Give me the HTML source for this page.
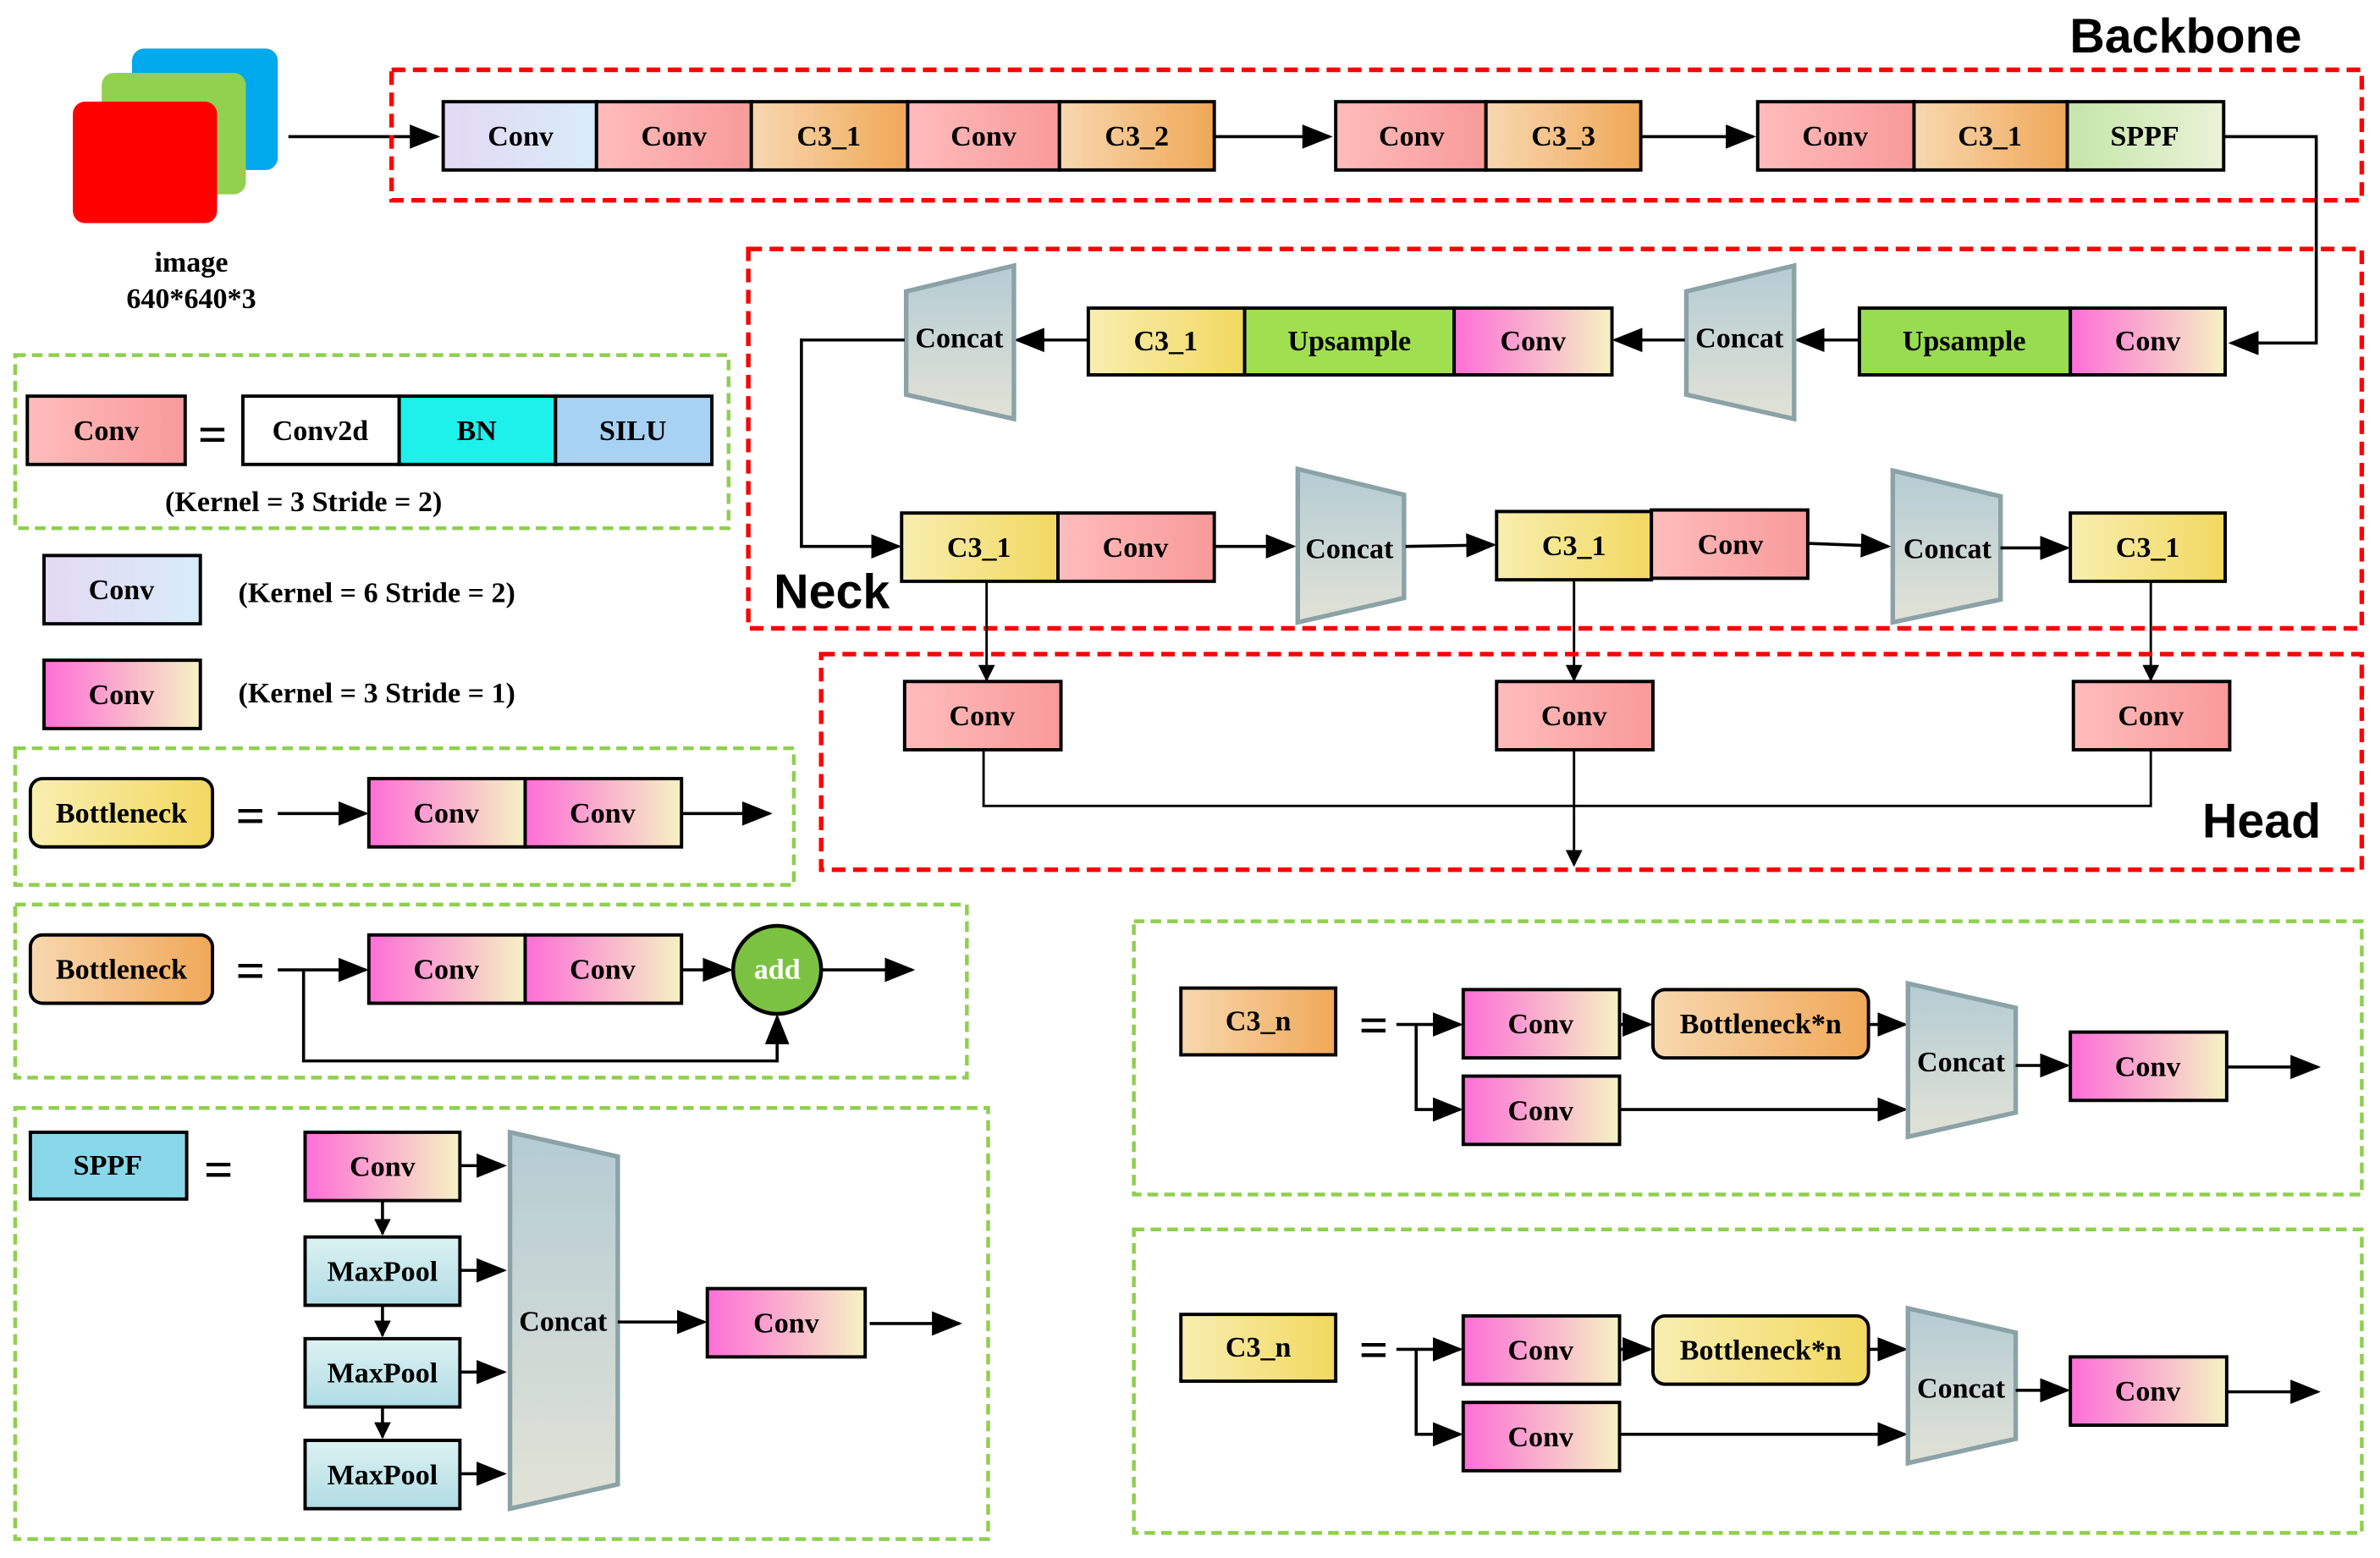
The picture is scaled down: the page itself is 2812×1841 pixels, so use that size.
<!DOCTYPE html>
<html><head><meta charset="utf-8"><style>
html,body{margin:0;padding:0;background:#fff;}
svg{display:block;}
text{font-family:"Liberation Serif",serif;font-weight:bold;font-size:19px;text-anchor:middle;dominant-baseline:central;fill:#000;}
.big{font-family:"Liberation Sans",sans-serif;font-size:32px;}
.b{stroke:#000;stroke-width:2.2;}
.cat{stroke:#8ba2a6;stroke-width:3;fill:url(#gCat);}
.ln{stroke:#000;stroke-width:2;fill:none;}
.dr{fill:none;stroke:#f00;stroke-width:3;stroke-dasharray:9,5;}
.dg{fill:none;stroke:#8fcf4f;stroke-width:2.5;stroke-dasharray:7,4;}
</style></head><body>
<svg width="2812" height="1841" viewBox="0 0 1568 1026.5" preserveAspectRatio="none" xmlns="http://www.w3.org/2000/svg">
<defs>
<linearGradient id="gConv"><stop offset="0" stop-color="#ffbcbc"/><stop offset="1" stop-color="#f89a9a"/></linearGradient>
<linearGradient id="gC3o"><stop offset="0" stop-color="#f8d8b0"/><stop offset="1" stop-color="#f0a858"/></linearGradient>
<linearGradient id="gC3y"><stop offset="0" stop-color="#f8eeb0"/><stop offset="1" stop-color="#f2d860"/></linearGradient>
<linearGradient id="gLav"><stop offset="0" stop-color="#e4d8f4"/><stop offset="1" stop-color="#d8ecf8"/></linearGradient>
<linearGradient id="gSPPF"><stop offset="0" stop-color="#c4e6a8"/><stop offset="1" stop-color="#eaf2d8"/></linearGradient>
<linearGradient id="gMag"><stop offset="0" stop-color="#ff6ed8"/><stop offset="1" stop-color="#f6f2c4"/></linearGradient>
<linearGradient id="gMax" x1="0" y1="0" x2="0" y2="1"><stop offset="0" stop-color="#dcf2f2"/><stop offset="1" stop-color="#b0dce4"/></linearGradient>
<linearGradient id="gCat" x1="0" y1="0" x2="0" y2="1"><stop offset="0" stop-color="#b4ccd4"/><stop offset="1" stop-color="#e2e2d6"/></linearGradient>
<marker id="ar" viewBox="0 0 10 10" refX="9" refY="5" markerWidth="11" markerHeight="11" markerUnits="userSpaceOnUse" orient="auto"><path d="M0,0L10,5L0,10z" fill="#000"/></marker>
<marker id="arb" viewBox="0 0 10 10" refX="9" refY="5" markerWidth="20" markerHeight="20" markerUnits="userSpaceOnUse" orient="auto"><path d="M0,1L10,5L0,9z" fill="#000"/></marker>
</defs>

<!-- image -->
<rect x="87" y="32" width="96" height="80" rx="8" fill="#00a8ec"/>
<rect x="67" y="48" width="95" height="80" rx="8" fill="#92d050"/>
<rect x="48" y="67" width="95" height="80" rx="8" fill="#ff0000"/>
<text x="126" y="173">image</text>
<text x="126" y="197">640*640*3</text>
<line class="ln" x1="190" y1="90" x2="288" y2="90" marker-end="url(#arb)"/>

<!-- Backbone -->
<rect class="dr" x="258" y="46" width="1298" height="86"/>
<text class="big" x="1440" y="24">Backbone</text>
<rect class="b" x="292" y="67" width="101" height="45" fill="url(#gLav)"/><text x="343" y="90">Conv</text>
<rect class="b" x="393" y="67" width="102" height="45" fill="url(#gConv)"/><text x="444" y="90">Conv</text>
<rect class="b" x="495" y="67" width="103" height="45" fill="url(#gC3o)"/><text x="546" y="90">C3_1</text>
<rect class="b" x="598" y="67" width="100" height="45" fill="url(#gConv)"/><text x="648" y="90">Conv</text>
<rect class="b" x="698" y="67" width="102" height="45" fill="url(#gC3o)"/><text x="749" y="90">C3_2</text>
<line class="ln" x1="800" y1="90" x2="876" y2="90" marker-end="url(#arb)"/>
<rect class="b" x="880" y="67" width="99" height="45" fill="url(#gConv)"/><text x="930" y="90">Conv</text>
<rect class="b" x="979" y="67" width="102" height="45" fill="url(#gC3o)"/><text x="1030" y="90">C3_3</text>
<line class="ln" x1="1081" y1="90" x2="1155" y2="90" marker-end="url(#arb)"/>
<rect class="b" x="1158" y="67" width="103" height="45" fill="url(#gConv)"/><text x="1209" y="90">Conv</text>
<rect class="b" x="1261" y="67" width="101" height="45" fill="url(#gC3o)"/><text x="1311" y="90">C3_1</text>
<rect class="b" x="1362" y="67" width="103" height="45" fill="url(#gSPPF)"/><text x="1413" y="90">SPPF</text>
<polyline class="ln" points="1465,90 1526,90 1526,226 1470,226" marker-end="url(#arb)"/>

<!-- Neck -->
<rect class="dr" x="493" y="164" width="1063" height="250"/>
<text class="big" x="548" y="390">Neck</text>
<rect class="b" x="1225" y="203" width="139" height="44" fill="#98dc50"/><text x="1294" y="225">Upsample</text>
<rect class="b" x="1364" y="203" width="102" height="44" fill="url(#gMag)"/><text x="1415" y="225">Conv</text>
<line class="ln" x1="1225" y1="224" x2="1184" y2="224" marker-end="url(#arb)"/>
<polygon class="cat" points="1111,192 1182,175 1182,276 1111,260"/><text x="1146" y="223">Concat</text>
<line class="ln" x1="1110" y1="224" x2="1064" y2="224" marker-end="url(#arb)"/>
<rect class="b" x="717" y="203" width="103" height="44" fill="url(#gC3y)"/><text x="768" y="225">C3_1</text>
<rect class="b" x="820" y="203" width="138" height="44" fill="#a0e050"/><text x="889" y="225">Upsample</text>
<rect class="b" x="958" y="203" width="104" height="44" fill="url(#gMag)"/><text x="1010" y="225">Conv</text>
<line class="ln" x1="717" y1="224" x2="670" y2="224" marker-end="url(#arb)"/>
<polygon class="cat" points="597,192 668,175 668,276 597,260"/><text x="632" y="223">Concat</text>
<polyline class="ln" points="596,224 528,224 528,360 592,360" marker-end="url(#arb)"/>

<rect class="b" x="594" y="338" width="103" height="45" fill="url(#gC3y)"/><text x="645" y="361">C3_1</text>
<rect class="b" x="697" y="338" width="103" height="45" fill="url(#gConv)"/><text x="748" y="361">Conv</text>
<line class="ln" x1="800" y1="360" x2="852" y2="360" marker-end="url(#arb)"/>
<polygon class="cat" points="855,309 925,326 925,394 855,410"/><text x="889" y="362">Concat</text>
<line class="ln" x1="926" y1="360" x2="984" y2="359" marker-end="url(#arb)"/>
<rect class="b" x="986" y="337" width="102" height="45" fill="url(#gC3y)"/><text x="1037" y="360">C3_1</text>
<rect class="b" x="1088" y="336" width="103" height="45" fill="url(#gConv)"/><text x="1140" y="359">Conv</text>
<line class="ln" x1="1191" y1="358" x2="1244" y2="360" marker-end="url(#arb)"/>
<polygon class="cat" points="1247,310 1318,327 1318,395 1247,410"/><text x="1283" y="362">Concat</text>
<line class="ln" x1="1318" y1="361" x2="1362" y2="361" marker-end="url(#arb)"/>
<rect class="b" x="1364" y="338" width="102" height="45" fill="url(#gC3y)"/><text x="1415" y="361">C3_1</text>

<line x1="650" y1="383" x2="650" y2="448" stroke="#000" stroke-width="1.6" marker-end="url(#ar)"/>
<line x1="1037" y1="382" x2="1037" y2="448" stroke="#000" stroke-width="1.6" marker-end="url(#ar)"/>
<line x1="1417" y1="383" x2="1417" y2="448" stroke="#000" stroke-width="1.6" marker-end="url(#ar)"/>

<!-- Head -->
<rect class="dr" x="541" y="431" width="1015" height="142"/>
<text class="big" x="1490" y="541">Head</text>
<rect class="b" x="596" y="449" width="103" height="45" fill="url(#gConv)"/><text x="647" y="472">Conv</text>
<rect class="b" x="986" y="449" width="103" height="45" fill="url(#gConv)"/><text x="1037" y="472">Conv</text>
<rect class="b" x="1366" y="449" width="103" height="45" fill="url(#gConv)"/><text x="1417" y="472">Conv</text>
<polyline points="648,494 648,531 1417,531 1417,494" fill="none" stroke="#000" stroke-width="1.6"/>
<line x1="1037" y1="494" x2="1037" y2="570" stroke="#000" stroke-width="1.6" marker-end="url(#ar)"/>

<!-- Legend 1 -->
<rect class="dg" x="10" y="234" width="470" height="114"/>
<rect class="b" x="18" y="261" width="104" height="45" fill="url(#gConv)"/><text x="70" y="284">Conv</text>
<text x="140" y="287" style="font-size:34px">=</text>
<rect class="b" x="160" y="261" width="103" height="45" fill="#fff"/><text x="211" y="284">Conv2d</text>
<rect class="b" x="263" y="261" width="103" height="45" fill="#1ef0ec"/><text x="314" y="284">BN</text>
<rect class="b" x="366" y="261" width="103" height="45" fill="#a8d2f4"/><text x="417" y="284">SILU</text>
<text x="200" y="331">(Kernel = 3  Stride = 2)</text>
<rect class="b" x="29" y="366" width="103" height="45" fill="url(#gLav)"/><text x="80" y="389">Conv</text>
<text x="157" y="391" style="text-anchor:start">(Kernel = 6  Stride = 2)</text>
<rect class="b" x="29" y="435" width="103" height="45" fill="url(#gMag)"/><text x="80" y="458">Conv</text>
<text x="157" y="457" style="text-anchor:start">(Kernel = 3  Stride = 1)</text>

<!-- Bottleneck 1 -->
<rect class="dg" x="10" y="493" width="513" height="90"/>
<rect class="b" x="20" y="513" width="120" height="45" rx="8" fill="url(#gC3y)"/><text x="80" y="536">Bottleneck</text>
<text x="165" y="538" style="font-size:34px">=</text>
<line class="ln" x1="183" y1="536" x2="241" y2="536" marker-end="url(#arb)"/>
<rect class="b" x="243" y="513" width="103" height="45" fill="url(#gMag)"/><text x="294" y="536">Conv</text>
<rect class="b" x="346" y="513" width="103" height="45" fill="url(#gMag)"/><text x="397" y="536">Conv</text>
<line class="ln" x1="449" y1="536" x2="507" y2="536" marker-end="url(#arb)"/>

<!-- Bottleneck 2 -->
<rect class="dg" x="10" y="596" width="627" height="114"/>
<rect class="b" x="20" y="616" width="120" height="45" rx="8" fill="url(#gC3o)"/><text x="80" y="639">Bottleneck</text>
<text x="165" y="640" style="font-size:34px">=</text>
<line class="ln" x1="183" y1="639" x2="241" y2="639" marker-end="url(#arb)"/>
<rect class="b" x="243" y="616" width="103" height="45" fill="url(#gMag)"/><text x="294" y="639">Conv</text>
<rect class="b" x="346" y="616" width="103" height="45" fill="url(#gMag)"/><text x="397" y="639">Conv</text>
<line class="ln" x1="449" y1="639" x2="481" y2="639" marker-end="url(#arb)"/>
<circle cx="512" cy="639" r="29" fill="#7cc242" stroke="#000" stroke-width="2.5"/>
<text x="512" y="639" style="fill:#fff">add</text>
<polyline class="ln" points="200,639 200,699 512,699 512,670" marker-end="url(#arb)"/>
<line class="ln" x1="541" y1="639" x2="601" y2="639" marker-end="url(#arb)"/>

<!-- SPPF -->
<rect class="dg" x="10" y="730" width="641" height="284"/>
<rect class="b" x="20" y="746" width="103" height="44" fill="#88d8ea"/><text x="71" y="768">SPPF</text>
<text x="144" y="771" style="font-size:34px">=</text>
<rect class="b" x="201" y="746" width="102" height="45" fill="url(#gMag)"/><text x="252" y="769">Conv</text>
<rect class="b" x="201" y="815" width="102" height="45" fill="url(#gMax)"/><text x="252" y="838">MaxPool</text>
<rect class="b" x="201" y="882" width="102" height="45" fill="url(#gMax)"/><text x="252" y="905">MaxPool</text>
<rect class="b" x="201" y="949" width="102" height="45" fill="url(#gMax)"/><text x="252" y="972">MaxPool</text>
<line class="ln" x1="252" y1="791" x2="252" y2="813" marker-end="url(#ar)"/>
<line class="ln" x1="252" y1="860" x2="252" y2="880" marker-end="url(#ar)"/>
<line class="ln" x1="252" y1="927" x2="252" y2="947" marker-end="url(#ar)"/>
<line class="ln" x1="303" y1="768" x2="332" y2="768" marker-end="url(#arb)"/>
<line class="ln" x1="303" y1="837" x2="332" y2="837" marker-end="url(#arb)"/>
<line class="ln" x1="303" y1="904" x2="332" y2="904" marker-end="url(#arb)"/>
<line class="ln" x1="303" y1="971" x2="332" y2="971" marker-end="url(#arb)"/>
<polygon class="cat" points="336,746 407,762 407,978 336,994"/><text x="371" y="871">Concat</text>
<line class="ln" x1="407" y1="871" x2="464" y2="871" marker-end="url(#arb)"/>
<rect class="b" x="466" y="849" width="104" height="45" fill="url(#gMag)"/><text x="518" y="872">Conv</text>
<line class="ln" x1="573" y1="872" x2="632" y2="872" marker-end="url(#arb)"/>

<!-- C3_n orange -->
<rect class="dg" x="747" y="607" width="809" height="180"/>
<rect class="b" x="778" y="651" width="102" height="44" fill="url(#gC3o)"/><text x="829" y="673">C3_n</text>
<text x="905" y="676" style="font-size:34px">=</text>
<line class="ln" x1="920" y1="675" x2="962" y2="675" marker-end="url(#arb)"/>
<polyline class="ln" points="933,675 933,731 962,731" marker-end="url(#arb)"/>
<rect class="b" x="964" y="652" width="103" height="45" fill="url(#gMag)"/><text x="1015" y="675">Conv</text>
<rect class="b" x="964" y="709" width="103" height="45" fill="url(#gMag)"/><text x="1015" y="732">Conv</text>
<line class="ln" x1="1067" y1="675" x2="1087" y2="675" marker-end="url(#arb)"/>
<rect class="b" x="1089" y="652" width="142" height="45" rx="8" fill="url(#gC3o)"/><text x="1160" y="675">Bottleneck*n</text>
<line class="ln" x1="1231" y1="675" x2="1255" y2="675" marker-end="url(#arb)"/>
<line class="ln" x1="1067" y1="731" x2="1255" y2="731" marker-end="url(#arb)"/>
<polygon class="cat" points="1257,648 1328,664 1328,733 1257,749"/><text x="1292" y="700">Concat</text>
<line class="ln" x1="1328" y1="702" x2="1362" y2="702" marker-end="url(#arb)"/>
<rect class="b" x="1364" y="680" width="103" height="45" fill="url(#gMag)"/><text x="1415" y="703">Conv</text>
<line class="ln" x1="1467" y1="703" x2="1527" y2="703" marker-end="url(#arb)"/>

<!-- C3_n yellow -->
<rect class="dg" x="747" y="810" width="809" height="200"/>
<rect class="b" x="778" y="866" width="102" height="44" fill="url(#gC3y)"/><text x="829" y="888">C3_n</text>
<text x="905" y="890" style="font-size:34px">=</text>
<line class="ln" x1="920" y1="889" x2="962" y2="889" marker-end="url(#arb)"/>
<polyline class="ln" points="933,889 933,945 962,945" marker-end="url(#arb)"/>
<rect class="b" x="964" y="867" width="103" height="45" fill="url(#gMag)"/><text x="1015" y="890">Conv</text>
<rect class="b" x="964" y="924" width="103" height="45" fill="url(#gMag)"/><text x="1015" y="947">Conv</text>
<line class="ln" x1="1067" y1="889" x2="1087" y2="889" marker-end="url(#arb)"/>
<rect class="b" x="1089" y="867" width="142" height="45" rx="8" fill="url(#gC3y)"/><text x="1160" y="890">Bottleneck*n</text>
<line class="ln" x1="1231" y1="889" x2="1255" y2="889" marker-end="url(#arb)"/>
<line class="ln" x1="1067" y1="945" x2="1255" y2="945" marker-end="url(#arb)"/>
<polygon class="cat" points="1257,862 1328,878 1328,948 1257,964"/><text x="1292" y="915">Concat</text>
<line class="ln" x1="1328" y1="916" x2="1362" y2="916" marker-end="url(#arb)"/>
<rect class="b" x="1364" y="894" width="103" height="45" fill="url(#gMag)"/><text x="1415" y="917">Conv</text>
<line class="ln" x1="1467" y1="917" x2="1527" y2="917" marker-end="url(#arb)"/>
</svg>
</body></html>
